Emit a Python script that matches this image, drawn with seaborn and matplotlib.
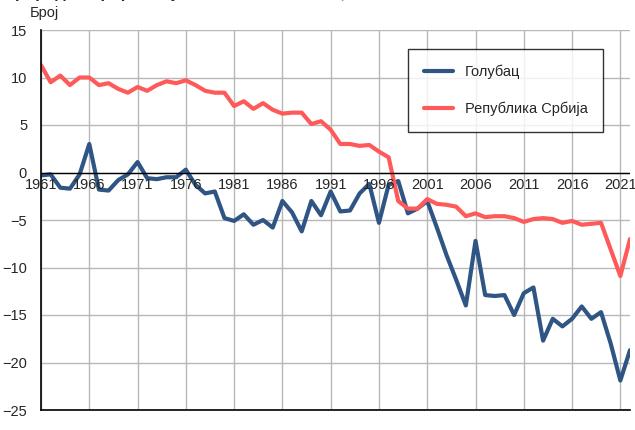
import numpy as np
import pandas as pd
import matplotlib
matplotlib.use("Agg")
import matplotlib.pyplot as plt
import seaborn as sns

years = list(range(1961, 2023))
golubac = [-0.3, -0.2, -1.6, -1.7, -0.2, 3.0, -1.8, -1.9, -0.8, -0.2,
           1.1, -0.6, -0.7, -0.5, -0.5, 0.3, -1.3, -2.2, -2.0, -4.8,
           -5.1, -4.4, -5.5, -5.0, -5.8, -3.0, -4.2, -6.2, -3.0, -4.5,
           -2.0, -4.1, -4.0, -2.2, -1.2, -5.3, -1.3, -0.9, -4.3, -3.8,
           -3.0, -5.8, -8.7, -11.3, -14.0, -7.2, -12.9, -13.0, -12.9, -15.0,
           -12.7, -12.1, -17.7, -15.4, -16.2, -15.4, -14.1, -15.4, -14.7, -18.0,
           -21.9, -18.7]
srbija = [11.3, 9.5, 10.2, 9.2, 10.0, 10.0, 9.2, 9.4, 8.8, 8.4,
          9.0, 8.6, 9.2, 9.6, 9.4, 9.7, 9.2, 8.6, 8.4, 8.4,
          7.0, 7.5, 6.7, 7.3, 6.6, 6.2, 6.3, 6.3, 5.1, 5.4,
          4.5, 3.0, 3.0, 2.8, 2.9, 2.2, 1.6, -3.0, -3.8, -3.8,
          -2.8, -3.3, -3.4, -3.6, -4.6, -4.3, -4.7, -4.6, -4.6, -4.8,
          -5.2, -4.9, -4.8, -4.9, -5.3, -5.1, -5.5, -5.4, -5.3, -8.1,
          -10.9, -7.0]
tick_years = list(range(1961, 2022, 5))

df = pd.DataFrame({"year": years * 2,
                   "value": golubac + srbija,
                   "series": ["Голубац"] * len(years) + ["Република Србија"] * len(years)})

sns.set_theme(style="white")
plt.rcParams['font.family'] = ['Liberation Sans', 'DejaVu Sans']

fig = plt.figure(figsize=(6.35, 4.3), dpi=100)
ax = fig.add_axes([41 / 635, 20 / 430, 589 / 635, 380 / 430])

sns.lineplot(data=df, x="year", y="value", hue="series",
             palette=["#2f5584", "#ff5a5a"], linewidth=3, ax=ax)

ax.set_xlim(1961, 2022)
ax.set_ylim(-25, 15)
ax.set_yticks(range(-25, 16, 5))
ax.set_xticks(tick_years)
ax.set_xticklabels([])
ax.tick_params(axis="x", length=0)
ax.tick_params(axis="y", labelsize=10.5, length=0, pad=10)
ax.grid(True, color="#b8b8b8", linewidth=1)
ax.axhline(0, color="black", linewidth=1)
for y in tick_years:
    ax.text(y, -0.6, str(y), ha="center", va="top", fontsize=10.5)
for s in ["top", "right"]:
    ax.spines[s].set_visible(False)
for s in ["left", "bottom"]:
    ax.spines[s].set_color("black")
    ax.spines[s].set_linewidth(1.2)
ax.set_xlabel("")
ax.set_ylabel("")

leg = ax.legend(loc="upper right", bbox_to_anchor=(0.955, 0.95), frameon=True,
                fontsize=10.5, handlelength=2.0, labelspacing=1.5,
                borderpad=1.1, borderaxespad=0, fancybox=False, title=None)
leg.get_frame().set_edgecolor("black")
leg.get_frame().set_linewidth(1)

fig.text(30 / 635, 1 - 13 / 430, "Број", fontsize=10.5, va="center")
fig.text(0.005, 1.015, "Природни прираштај на 1000 становника, 1961-2022",
         fontsize=12, fontweight="bold", va="center")

fig.savefig("out.png", dpi=100)
